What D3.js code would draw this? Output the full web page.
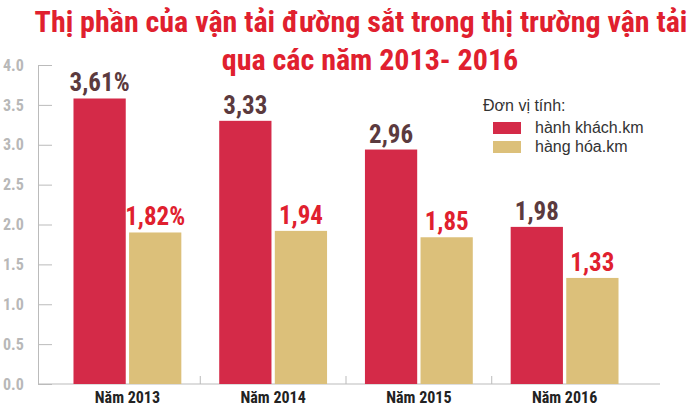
<!DOCTYPE html><html><head><meta charset="utf-8"><script src="https://cdn.jsdelivr.net/npm/d3@7"></script>
<style>body{margin:0;background:#fff}</style></head><body><svg id="c" width="700" height="413"></svg>
<script>
const years=["Năm 2013","Năm 2014","Năm 2015","Năm 2016"];
const passenger=[3.58,3.30,2.94,1.97];
const freight=[1.90,1.92,1.84,1.33];
const passengerLabels=["3,61%","3,33","2,96","1,98"];
const freightLabels=["1,82%","1,94","1,85","1,33"];
const yTicks=[0,0.5,1,1.5,2,2.5,3,3.5,4];
const seriesNames=["hành khách.km","hàng hóa.km"];
const colors=["#d42a48","#dcc07a"];
const cond="'Liberation Sans Narrow','Roboto Condensed','Arial Narrow',sans-serif";
const svg=d3.select("#c");
const y=d3.scaleLinear().domain([0,4]).range([384,65]);
const x=d3.scaleBand().domain(years).range([56,636]).paddingInner(0.26).paddingOuter(0.12);
const xi=d3.scaleBand().domain([0,1]).range([0,x.bandwidth()]).paddingInner(0.06);
const gy=svg.append("g").attr("transform","translate(38,0)").call(d3.axisLeft(y).tickValues(yTicks).tickFormat(d3.format(".1f")).tickSize(-14).tickPadding(8));
gy.select(".domain").attr("stroke","#bbb");
gy.selectAll(".tick line").attr("stroke","#bbb");
gy.selectAll("text").attr("fill","#b8b8b8").attr("font-family",cond).attr("font-size",16).attr("font-weight","bold").attr("text-anchor","start").attr("x",-35);
const gx=svg.append("g").attr("transform","translate(0,384)").call(d3.axisBottom(x).tickSize(0).tickPadding(8));
gx.select(".domain").attr("stroke","#bbb").attr("d","M38,0H660");
gx.selectAll("text").attr("fill","#222").attr("font-family",cond).attr("font-size",16).attr("font-weight","bold");
years.slice(1).forEach(d=>{const xx=x(d)-x.step()*x.paddingInner()/2;svg.append("line").attr("x1",xx).attr("x2",xx).attr("y1",376).attr("y2",384).attr("stroke","#bbb");});
[passenger,freight].forEach((s,k)=>{
 svg.selectAll(null).data(years).enter().append("rect").attr("x",d=>x(d)+xi(k)).attr("width",xi.bandwidth()).attr("y",(d,i)=>y(s[i])).attr("height",(d,i)=>384-y(s[i])).attr("fill",colors[k]);
 const labs=k?freightLabels:passengerLabels;
 svg.selectAll(null).data(years).enter().append("text").attr("x",d=>x(d)+xi(k)+xi.bandwidth()/2).attr("y",(d,i)=>y(s[i])-7).attr("text-anchor","middle").attr("font-family",cond).attr("font-weight","bold").attr("font-size",25).attr("fill",k?"#e0202e":"#5b3a3e").text((d,i)=>labs[i]);
});
svg.append("text").attr("x",361).attr("y",32).attr("text-anchor","middle").attr("font-family",cond).attr("font-weight","bold").attr("font-size",30).attr("fill","#e0202e").text("Thị phần của vận tải đường sắt trong thị trường vận tải");
svg.append("text").attr("x",370).attr("y",70).attr("text-anchor","middle").attr("font-family",cond).attr("font-weight","bold").attr("font-size",30).attr("fill","#e0202e").text("qua các năm 2013- 2016");
svg.append("text").attr("x",483).attr("y",111).attr("font-family","'Liberation Sans Narrow',sans-serif").attr("font-size",16).attr("fill","#333").text("Đơn vị tính:");
seriesNames.forEach((n,i)=>{
 svg.append("rect").attr("x",493).attr("y",122+i*19).attr("width",28).attr("height",12).attr("fill",colors[i]);
 svg.append("text").attr("x",535).attr("y",133+i*19).attr("font-family","'Liberation Sans Narrow',sans-serif").attr("font-size",16).attr("fill","#333").text(n);
});
</script></body></html>
